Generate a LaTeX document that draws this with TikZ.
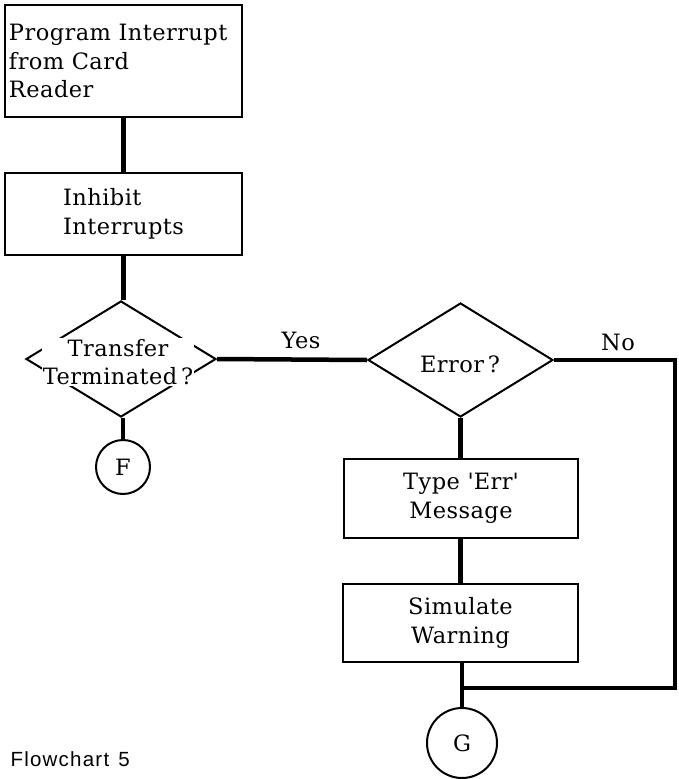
\documentclass[tikz,border=0pt]{standalone}
\usepackage{fontspec}
\setmainfont{DejaVu Serif}[LetterSpace=2]
\newfontfamily\captionfont{Liberation Sans}[LetterSpace=6]
\usetikzlibrary{shapes.geometric}

\tikzset{
  x=1pt, y=-1pt,
  every node/.style={font=\fontsize{22.5}{28.5}\selectfont},
  stepbox/.style={draw, line width=2pt, rectangle, inner sep=0pt},
  decision/.style={draw, line width=2pt, diamond, inner sep=0pt, shape aspect=1},
  onpage/.style={draw, line width=2pt, circle, inner sep=0pt},
  flow/.style={line width=4.5pt},
  cutout/.style={fill=white, inner sep=1pt},
}

\begin{document}
\begin{tikzpicture}
  \useasboundingbox (0,0) rectangle (678,779);

  % left column
  \node[stepbox, minimum width=237pt, minimum height=112pt, text width=229pt, align=left]
    (start) at (123.5,61) {Program Interrupt\\from Card\\Reader};
  \node[stepbox, minimum width=237pt, minimum height=82pt, align=left]
    (inhibit) at (123.5,214) {Inhibit\\Interrupts};
  \node[decision, minimum width=190pt, minimum height=116pt] (term) at (121,359) {};
  \node[onpage, minimum size=54pt] (F) at (123,467) {F};

  % right column
  \node[decision, minimum width=185pt, minimum height=114pt] (err) at (460.5,360) {};
  \node[stepbox, minimum width=234pt, minimum height=79pt, align=center]
    (type) at (461,498.5) {Type \textquotesingle Err\textquotesingle\\Message};
  \node[stepbox, minimum width=235pt, minimum height=78pt, align=center]
    (warn) at (460.5,623) {Simulate\\Warning};
  \node[onpage, minimum size=70pt] (G) at (462,743) {G};
  \coordinate (join) at (462,688);
  \coordinate (corner) at (675,688);

  % connectors
  \draw[flow] (start.south -| inhibit.north) -- (inhibit.north);
  \draw[flow] (inhibit.south) -- (term.north -| inhibit.south);
  \draw[flow] (term.south -| F.north) -- (F.north);
  \draw[flow] (term.east) -- (err.west);
  \draw[flow] (err.south) -- (type.north -| err.south);
  \draw[flow] (type.south -| warn.north) -- (warn.north);
  \draw[flow] (warn.south -| G.north) -- (G.north);
  \draw[flow] (err.east) -| (corner) -- (join);

  % labels inside the decisions, cut out of the outlines
  \node[cutout, align=center] (termtext) at (118,362) {Transfer\\Terminated\,?};
  \node (errtext) at (460,364) {Error\,?};
  \node (yes) at (301,340) {Yes};
  \node (no) at (618,342) {No};

  \node[anchor=base west, font=\captionfont\fontsize{20.5}{22}\selectfont] (caption) at (7,766) {Flowchart\hspace{0.45em}5};
\end{tikzpicture}
\end{document}
